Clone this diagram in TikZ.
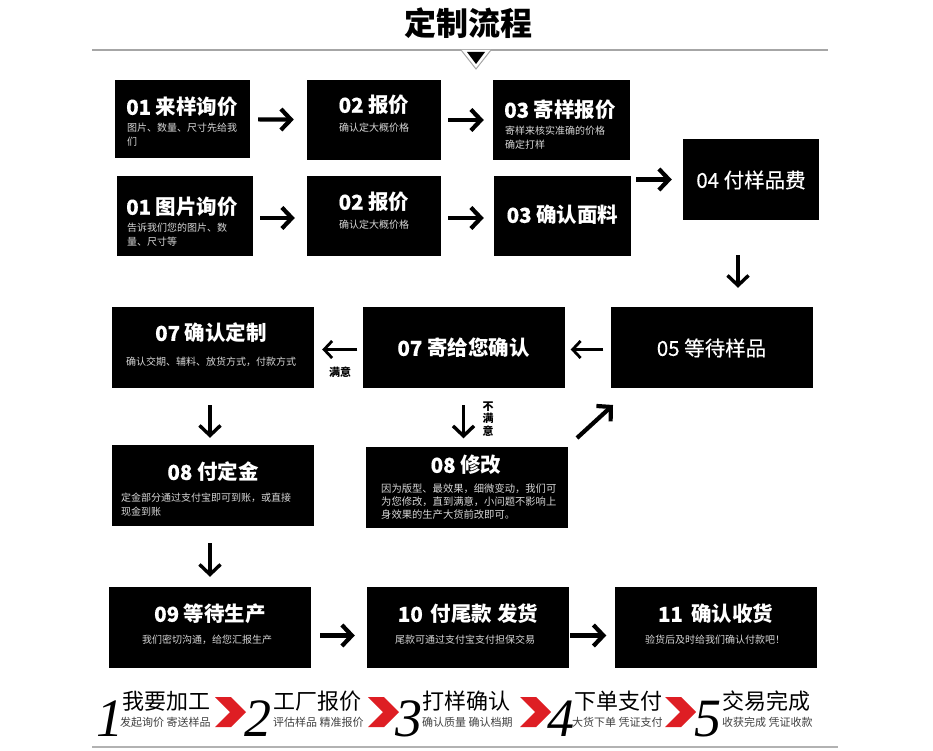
\documentclass[tikz,border=0pt]{standalone}
\usepackage{fontspec}
\newfontfamily\cjk{Noto Sans CJK SC}
\newfontfamily\cjkm{Noto Sans CJK SC}[FakeBold=0.4]
\newfontfamily\dig{Liberation Serif}
\usetikzlibrary{arrows.meta}
\definecolor{chev}{RGB}{222,30,36}
\definecolor{subg}{RGB}{215,215,215}
\newcommand{\nd}[1]{{\cjkm #1}}
\tikzset{
  box/.style={fill=black, draw=none, inner sep=0pt, minimum width=#1, minimum height=81pt},
  box/.default=202pt,
  ttl/.style={text=white, inner sep=0pt, font=\cjk\bfseries\fontsize{20.5}{24}\selectfont},
  ttlr/.style={text=white, inner sep=0pt, font=\cjkm\fontsize{20.5}{24}\selectfont},
  subt/.style={text=subg, inner sep=0pt, align=left, font=\cjk\fontsize{10}{13.5}\selectfont},
  arr/.style={line width=4.2pt, -{Straight Barb[length=10pt,width=21pt]}},
  arrt/.style={line width=2.8pt, -{Straight Barb[length=8pt,width=17pt]}},
  lbl/.style={inner sep=0pt, font=\cjk\bfseries\fontsize{11}{12.5}\selectfont, align=center},
  bignum/.style={inner sep=0pt, anchor=base, font=\dig\itshape\fontsize{54}{54}\selectfont},
  bigtxt/.style={inner sep=0pt, anchor=west, font=\cjk\fontsize{22}{24}\selectfont},
  smalltxt/.style={inner sep=0pt, anchor=west, text=black!75, font=\cjk\fontsize{11}{12}\selectfont},
}
\begin{document}
\begin{tikzpicture}[x=1pt,y=-1pt]
\useasboundingbox (0,0) rectangle (933,751);
% title
\node[inner sep=0pt, font=\cjk\bfseries\fontsize{32}{36}\selectfont] (title) at (468,23) {定制流程};
\draw[gray!70, line width=1.5pt] (92,50) -- (828,50);
\fill[white] (461,50) -- (491,50) -- (476,69) -- cycle;
\draw[gray!70, line width=1pt] (461,50) -- (476,69) -- (491,50);
\fill[black] (467,52) -- (485,52) -- (476,64) -- cycle;

% boxes
\node[box=135pt, minimum height=78pt] (b11) at (182.5,119) {};
\node[box=134pt, minimum height=80pt] (b12) at (374,120) {};
\node[box=137pt, minimum height=80pt] (b13) at (561.5,120) {};
\node[box=136pt, minimum height=80pt] (b21) at (185,216) {};
\node[box=134pt, minimum height=80pt] (b22) at (374,216) {};
\node[box=137pt, minimum height=80pt] (b23) at (562.5,216) {};
\node[box=136pt] (b4) at (751,179.5) {};
\node[box] (b5) at (711.5,347.5) {};
\node[box] (b7a) at (463.5,347.5) {};
\node[box] (b7b) at (213,347.5) {};
\node[box] (b8a) at (213,485.5) {};
\node[box] (b8b) at (466.5,487) {};
\node[box] (b9) at (210,627.5) {};
\node[box] (b10) at (468,627.5) {};
\node[box] (b11b) at (715.5,627.5) {};

% texts
\node[ttl, anchor=west] (t11) at (126,107) {\nd{01} 来样询价};
\node[subt, anchor=north west] (s11) at (127,123) {图片、数量、尺寸先给我\\们};
\node[ttl] (t12) at (374,105) {\nd{02} 报价};
\node[subt] (s12) at (374,128) {确认定大概价格};
\node[ttl, anchor=west] (t13) at (504,110) {\nd{03} 寄样报价};
\node[subt, anchor=north west] (s13) at (505,126) {寄样来核实准确的价格\\确定打样};
\node[ttl, anchor=west] (t21) at (126,207) {\nd{01} 图片询价};
\node[subt, anchor=north west] (s21) at (127,223) {告诉我们您的图片、数\\量、尺寸等};
\node[ttl] (t22) at (374,202) {\nd{02} 报价};
\node[subt] (s22) at (374,225) {确认定大概价格};
\node[ttl] (t23) at (562.5,215) {\nd{03} 确认面料};
\node[ttlr] (t4) at (751,180) {04 付样品费};
\node[ttlr] (t5) at (711.5,348) {05 等待样品};
\node[ttl] (t7a) at (463.5,348) {\nd{07} 寄给您确认};
\node[ttl] (t7b) at (211,333) {\nd{07} 确认定制};
\node[subt] (s7b) at (211,362) {确认交期、辅料、放货方式，付款方式};
\node[ttl] (t8a) at (213,472) {\nd{08} 付定金};
\node[subt, anchor=north west] (s8a) at (121,493) {定金部分通过支付宝即可到账，或直接\\现金到账};
\node[ttl] (t8b) at (466,465) {\nd{08} 修改};
\node[subt, anchor=north west, font=\cjk\fontsize{10.3}{13}\selectfont] (s8b) at (381,484) {因为版型、最效果，细微变动，我们可\\为您修改，直到满意，小问题不影响上\\身效果的生产大货前改即可。};
\node[ttl] (t9) at (210,614) {\nd{09} 等待生产};
\node[subt] (s9) at (207,640) {我们密切沟通，给您汇报生产};
\node[ttl] (t10) at (468,614) {\nd{10}\, 付尾款 发货};
\node[subt] (s10) at (465,640) {尾款可通过支付宝支付担保交易};
\node[ttl] (t11b) at (715.5,614) {\nd{11}\, 确认收货};
\node[subt] (s11b) at (715,640) {验货后及时给我们确认付款吧！};

% arrows
\draw[arr, shorten <=8pt, shorten >=13pt] (b11) -- (b12);
\draw[arr, shorten <=7pt, shorten >=9pt] (b12) -- (b13);
\draw[arr, shorten <=7pt, shorten >=12pt] ([yshift=-2pt]b21.east) -- ([yshift=-2pt]b22.west);
\draw[arr, shorten <=7pt, shorten >=10pt] ([yshift=-2pt]b22.east) -- ([yshift=-2pt]b23.west);
\draw[arr, shorten <=5pt, shorten >=11pt] (b23.east |- b4.west) -- (b4.west);
\coordinate (d4) at ([xshift=-13pt]b4.south);
\draw[arr, line width=3.4pt, shorten <=35pt, shorten >=19pt] (d4) -- (d4 |- b5.north);
\draw[arrt, shorten <=7pt, shorten >=6pt] ([yshift=-2pt]b5.west) -- ([yshift=-2pt]b7a.east);
\draw[arrt, shorten <=5pt, shorten >=8pt] ([yshift=-2pt]b7a.west) -- ([yshift=-2pt]b7b.east);
\node[lbl] (ok) at (340,372) {满意};
\draw[arr, line width=3.4pt, shorten <=17pt, shorten >=7pt] ([xshift=-3pt]b7b.south) -- ([xshift=-3pt]b8a.north);
\draw[arr, line width=3.4pt, shorten <=17pt, shorten >=8pt] (b7a.south) -- (b7a.south |- b8b.north);
\node[lbl] (nok) at (488,419) {不\\满\\意};
\coordinate (d1) at (577,438);
\coordinate (d2) at (613,405);
\draw[arr] (d1) -- (d2);
\draw[arr, line width=3.4pt, shorten <=17pt, shorten >=10pt] ([xshift=-3pt]b8a.south) -- ([xshift=-3pt]b8a.south |- b9.north);
\draw[arr, shorten <=9pt, shorten >=12pt] ([yshift=-8pt]b9.east) -- ([yshift=-8pt]b10.west);
\draw[arr, shorten <=1pt, shorten >=8pt] ([yshift=-8pt]b10.east) -- ([yshift=-8pt]b11b.west);

% bottom strip
\node[bignum] (n1) at (110,736) {1};
\node[bigtxt] (m1) at (122,701) {我要加工};
\node[smalltxt] (k1) at (120,722) {发起询价 寄送样品};
\fill[chev] (215,697) -- (231,697) -- (246,712) -- (231,727) -- (215,727) -- (230,712) -- cycle;
\node[bignum] (n2) at (258,736) {2};
\node[bigtxt] (m2) at (273,701) {工厂报价};
\node[smalltxt] (k2) at (273,722) {评估样品 精准报价};
\fill[chev] (368,697) -- (384,697) -- (399,712) -- (384,727) -- (368,727) -- (383,712) -- cycle;
\node[bignum] (n3) at (409,736) {3};
\node[bigtxt] (m3) at (422,701) {打样确认};
\node[smalltxt] (k3) at (422,722) {确认质量 确认档期};
\fill[chev] (520,697) -- (536,697) -- (551,712) -- (536,727) -- (520,727) -- (535,712) -- cycle;
\node[bignum] (n4) at (561,736) {4};
\node[bigtxt] (m4) at (574,701) {下单支付};
\node[smalltxt] (k4) at (572,722) {大货下单 凭证支付};
\fill[chev] (665,697) -- (681,697) -- (696,712) -- (681,727) -- (665,727) -- (680,712) -- cycle;
\node[bignum] (n5) at (708,736) {5};
\node[bigtxt] (m5) at (722,701) {交易完成};
\node[smalltxt] (k5) at (722,722) {收获完成 凭证收款};
\draw[gray!60, line width=1.5pt] (92,747) -- (838,747);
\end{tikzpicture}
\end{document}
